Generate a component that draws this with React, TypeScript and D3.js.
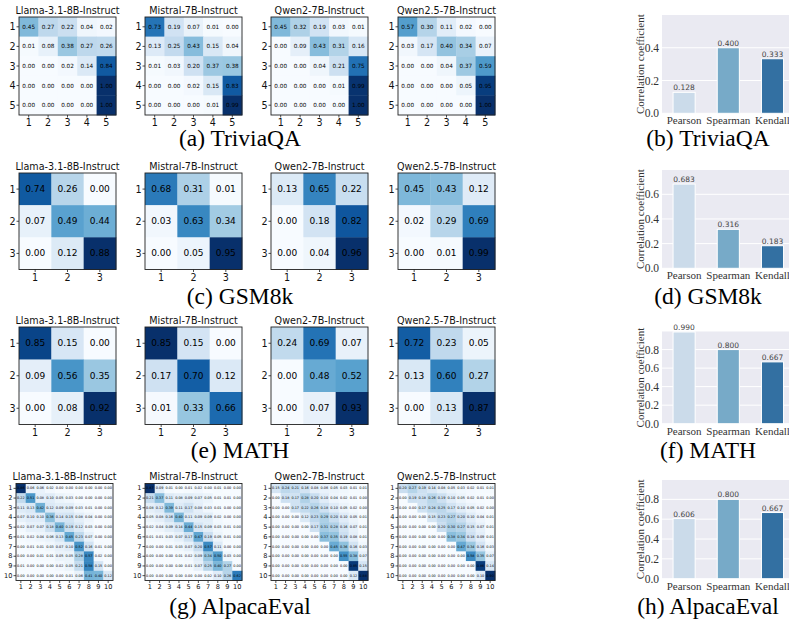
import React from "react";
import * as d3 from "d3";

const MODELS = ["Llama-3.1-8B-Instruct", "Mistral-7B-Instruct", "Qwen2-7B-Instruct", "Qwen2.5-7B-Instruct"];
const TICKS_5 = ["1", "2", "3", "4", "5"];
const TICKS_3 = ["1", "2", "3"];
const TICKS_10 = ["1", "2", "3", "4", "5", "6", "7", "8", "9", "10"];

const TRIVIA_LLAMA = [
  [0.45, 0.27, 0.22, 0.04, 0.02],
  [0.01, 0.08, 0.38, 0.27, 0.26],
  [0.0, 0.0, 0.02, 0.14, 0.84],
  [0.0, 0.0, 0.0, 0.0, 1.0],
  [0.0, 0.0, 0.0, 0.0, 1.0],
];
const TRIVIA_MISTRAL = [
  [0.73, 0.19, 0.07, 0.01, 0.0],
  [0.13, 0.25, 0.43, 0.15, 0.04],
  [0.01, 0.03, 0.2, 0.37, 0.38],
  [0.0, 0.0, 0.02, 0.15, 0.83],
  [0.0, 0.0, 0.0, 0.01, 0.99],
];
const TRIVIA_QWEN2 = [
  [0.45, 0.32, 0.19, 0.03, 0.01],
  [0.0, 0.09, 0.43, 0.31, 0.16],
  [0.0, 0.0, 0.04, 0.21, 0.75],
  [0.0, 0.0, 0.0, 0.01, 0.99],
  [0.0, 0.0, 0.0, 0.0, 1.0],
];
const TRIVIA_QWEN25 = [
  [0.57, 0.3, 0.11, 0.02, 0.0],
  [0.03, 0.17, 0.4, 0.34, 0.07],
  [0.0, 0.0, 0.04, 0.37, 0.59],
  [0.0, 0.0, 0.0, 0.05, 0.95],
  [0.0, 0.0, 0.0, 0.0, 1.0],
];

const GSM_LLAMA = [[0.74, 0.26, 0.0], [0.07, 0.49, 0.44], [0.0, 0.12, 0.88]];
const GSM_MISTRAL = [[0.68, 0.31, 0.01], [0.03, 0.63, 0.34], [0.0, 0.05, 0.95]];
const GSM_QWEN2 = [[0.13, 0.65, 0.22], [0.0, 0.18, 0.82], [0.0, 0.04, 0.96]];
const GSM_QWEN25 = [[0.45, 0.43, 0.12], [0.02, 0.29, 0.69], [0.0, 0.01, 0.99]];

const MATH_LLAMA = [[0.85, 0.15, 0.0], [0.09, 0.56, 0.35], [0.0, 0.08, 0.92]];
const MATH_MISTRAL = [[0.85, 0.15, 0.0], [0.17, 0.7, 0.12], [0.01, 0.33, 0.66]];
const MATH_QWEN2 = [[0.24, 0.69, 0.07], [0.0, 0.48, 0.52], [0.0, 0.07, 0.93]];
const MATH_QWEN25 = [[0.72, 0.23, 0.05], [0.13, 0.6, 0.27], [0.0, 0.13, 0.87]];

const ALPACA_LLAMA = [
  [0.86, 0.06, 0.06, 0.02, 0.0, 0.0, 0.0, 0.0, 0.0, 0.0],
  [0.22, 0.51, 0.08, 0.1, 0.05, 0.03, 0.0, 0.0, 0.0, 0.0],
  [0.11, 0.13, 0.42, 0.12, 0.09, 0.09, 0.03, 0.01, 0.0, 0.0],
  [0.07, 0.1, 0.1, 0.36, 0.14, 0.15, 0.08, 0.04, 0.0, 0.0],
  [0.02, 0.07, 0.07, 0.18, 0.4, 0.19, 0.12, 0.03, 0.0, 0.0],
  [0.01, 0.02, 0.04, 0.06, 0.13, 0.45, 0.23, 0.07, 0.0, 0.0],
  [0.0, 0.01, 0.01, 0.03, 0.07, 0.1, 0.52, 0.16, 0.01, 0.0],
  [0.0, 0.0, 0.01, 0.01, 0.05, 0.05, 0.28, 0.57, 0.02, 0.0],
  [0.01, 0.0, 0.0, 0.0, 0.02, 0.05, 0.21, 0.58, 0.15, 0.0],
  [0.0, 0.0, 0.0, 0.0, 0.0, 0.01, 0.06, 0.41, 0.4, 0.12],
];
const ALPACA_MISTRAL = [
  [0.87, 0.09, 0.01, 0.0, 0.01, 0.02, 0.0, 0.01, 0.0, 0.0],
  [0.21, 0.37, 0.11, 0.08, 0.09, 0.07, 0.05, 0.01, 0.01, 0.0],
  [0.08, 0.12, 0.39, 0.11, 0.17, 0.08, 0.03, 0.01, 0.0, 0.0],
  [0.05, 0.08, 0.16, 0.4, 0.11, 0.09, 0.09, 0.02, 0.0, 0.0],
  [0.02, 0.04, 0.09, 0.14, 0.44, 0.15, 0.09, 0.03, 0.01, 0.0],
  [0.01, 0.01, 0.03, 0.07, 0.17, 0.47, 0.19, 0.05, 0.01, 0.0],
  [0.0, 0.0, 0.01, 0.03, 0.07, 0.2, 0.57, 0.11, 0.0, 0.0],
  [0.0, 0.0, 0.0, 0.01, 0.02, 0.09, 0.34, 0.5, 0.03, 0.0],
  [0.0, 0.0, 0.0, 0.0, 0.01, 0.07, 0.25, 0.4, 0.27, 0.0],
  [0.0, 0.0, 0.0, 0.0, 0.0, 0.0, 0.02, 0.1, 0.26, 0.62],
];
const ALPACA_QWEN2 = [
  [0.15, 0.24, 0.21, 0.16, 0.08, 0.06, 0.05, 0.03, 0.01, 0.01],
  [0.0, 0.18, 0.17, 0.28, 0.2, 0.1, 0.04, 0.02, 0.01, 0.0],
  [0.0, 0.0, 0.17, 0.22, 0.26, 0.18, 0.1, 0.05, 0.02, 0.0],
  [0.0, 0.0, 0.0, 0.12, 0.23, 0.29, 0.2, 0.1, 0.05, 0.01],
  [0.0, 0.0, 0.0, 0.0, 0.17, 0.31, 0.28, 0.16, 0.07, 0.01],
  [0.0, 0.0, 0.0, 0.0, 0.0, 0.37, 0.35, 0.19, 0.08, 0.01],
  [0.0, 0.0, 0.0, 0.0, 0.0, 0.0, 0.45, 0.36, 0.16, 0.03],
  [0.0, 0.0, 0.0, 0.0, 0.0, 0.0, 0.0, 0.55, 0.38, 0.07],
  [0.0, 0.0, 0.0, 0.0, 0.0, 0.0, 0.0, 0.0, 0.85, 0.15],
  [0.0, 0.0, 0.0, 0.0, 0.0, 0.0, 0.0, 0.0, 0.12, 0.88],
];
const ALPACA_QWEN25 = [
  [0.2, 0.27, 0.19, 0.14, 0.08, 0.05, 0.03, 0.02, 0.01, 0.01],
  [0.0, 0.19, 0.18, 0.26, 0.19, 0.1, 0.05, 0.02, 0.01, 0.0],
  [0.0, 0.0, 0.17, 0.24, 0.25, 0.17, 0.1, 0.05, 0.02, 0.0],
  [0.0, 0.0, 0.0, 0.15, 0.23, 0.27, 0.2, 0.1, 0.04, 0.01],
  [0.0, 0.0, 0.0, 0.0, 0.2, 0.3, 0.27, 0.15, 0.07, 0.01],
  [0.0, 0.0, 0.0, 0.0, 0.0, 0.38, 0.34, 0.18, 0.09, 0.01],
  [0.0, 0.0, 0.0, 0.0, 0.0, 0.0, 0.47, 0.34, 0.16, 0.03],
  [0.0, 0.0, 0.0, 0.0, 0.0, 0.0, 0.0, 0.58, 0.35, 0.07],
  [0.0, 0.0, 0.0, 0.0, 0.0, 0.0, 0.0, 0.0, 0.86, 0.14],
  [0.0, 0.0, 0.0, 0.0, 0.0, 0.0, 0.0, 0.0, 0.1, 0.9],
];

const CORR_METHODS = ["Pearson", "Spearman", "Kendall"];
const CORR_TRIVIA = [0.128, 0.4, 0.333];
const CORR_GSM = [0.683, 0.316, 0.183];
const CORR_MATH = [0.99, 0.8, 0.667];
const CORR_ALPACA = [0.606, 0.8, 0.667];
const YTICKS_TRIVIA = [0, 0.2, 0.4];
const YTICKS_GSM = [0, 0.2, 0.4, 0.6];
const YTICKS_MATH = [0, 0.2, 0.4, 0.6, 0.8];
const YTICKS_ALPACA = [0, 0.2, 0.4, 0.6, 0.8];
const BAR_COLORS = ["#cbdbea", "#77aac8", "#3370a2"];

const CAPTIONS_LEFT = ["(a) TriviaQA", "(c) GSM8k", "(e) MATH", "(g) AlpacaEval"];
const CAPTIONS_RIGHT = ["(b) TriviaQA", "(d) GSM8k", "(f) MATH", "(h) AlpacaEval"];
const Y_LABEL = "Correlation coefficient";

const SANS = "DejaVu Sans";
const SERIF = "Liberation Serif";

type HMProps = {
  data: number[][];
  ticks: string[];
  x: number;
  y: number;
  w: number;
  h: number;
  title: string;
  cellFont: number;
  tickFont: number;
};

function Heatmap({ data, ticks, x, y, w, h, title, cellFont, tickFont }: HMProps) {
  const xs = d3.scaleBand<string>().domain(ticks).range([x, x + w]);
  const ys = d3.scaleBand<string>().domain(ticks).range([y, y + h]);
  const flat = data.flat();
  const color = d3
    .scaleSequential(d3.interpolateBlues)
    .domain([d3.min(flat) as number, d3.max(flat) as number]);
  const bw = xs.bandwidth();
  const bh = ys.bandwidth();
  return (
    <g>
      <text x={x + w / 2} y={y - 3.5} textAnchor="middle" fontFamily={SANS} fontSize={9.6} fill="#111">
        {title}
      </text>
      {data.map((row, i) =>
        row.map((v, j) => (
          <rect
            key={`c${i}-${j}`}
            x={xs(ticks[j])}
            y={ys(ticks[i])}
            width={bw + 0.4}
            height={bh + 0.4}
            fill={color(v)}
          />
        ))
      )}
      {data.map((row, i) =>
        row.map((v, j) => (
          <text
            key={`t${i}-${j}`}
            x={(xs(ticks[j]) as number) + bw / 2}
            y={(ys(ticks[i]) as number) + bh / 2}
            textAnchor="middle"
            dominantBaseline="central"
            fontFamily={SANS}
            fontSize={cellFont}
            fill="#000"
          >
            {v.toFixed(2)}
          </text>
        ))
      )}
      <rect x={x} y={y} width={w} height={h} fill="none" stroke="#222" strokeWidth={0.9} />
      {ticks.map((t) => (
        <g key={`xt${t}`}>
          <line
            x1={(xs(t) as number) + bw / 2}
            x2={(xs(t) as number) + bw / 2}
            y1={y + h}
            y2={y + h + 2.5}
            stroke="#222"
            strokeWidth={0.8}
          />
          <text
            x={(xs(t) as number) + bw / 2}
            y={y + h + 4 + tickFont * 0.73}
            textAnchor="middle"
            fontFamily={SANS}
            fontSize={tickFont}
            fill="#111"
          >
            {t}
          </text>
        </g>
      ))}
      {ticks.map((t) => (
        <g key={`yt${t}`}>
          <line
            x1={x - 2.5}
            x2={x}
            y1={(ys(t) as number) + bh / 2}
            y2={(ys(t) as number) + bh / 2}
            stroke="#222"
            strokeWidth={0.8}
          />
          <text
            x={x - 3.5}
            y={(ys(t) as number) + bh / 2}
            textAnchor="end"
            dominantBaseline="central"
            fontFamily={SANS}
            fontSize={tickFont}
            fill="#111"
          >
            {t}
          </text>
        </g>
      ))}
    </g>
  );
}

type BarProps = {
  values: number[];
  ymax: number;
  yticks: number[];
  top: number;
  bottom: number;
  caption: string;
  captionY: number;
};

function CorrBar({ values, ymax, yticks, top, bottom, caption, captionY }: BarProps) {
  const left = 662;
  const x = d3
    .scaleBand<string>()
    .domain(CORR_METHODS)
    .range([left, left + 132.6])
    .paddingInner(0.5)
    .paddingOuter(0.25);
  const y = d3.scaleLinear().domain([0, ymax]).range([bottom, top]);
  const bw = x.bandwidth();
  return (
    <g>
      <rect x={left} y={top} width={140} height={bottom - top} fill="#eaeaf2" />
      {yticks.map((t) => (
        <g key={`g${t}`}>
          <line x1={left} x2={left + 140} y1={y(t)} y2={y(t)} stroke="#fff" strokeWidth={1} />
          <text
            x={left - 3}
            y={y(t)}
            textAnchor="end"
            dominantBaseline="central"
            fontFamily={SERIF}
            fontSize={11.5}
            fill="#333"
          >
            {t.toFixed(1)}
          </text>
        </g>
      ))}
      {values.map((v, i) => (
        <g key={`b${i}`}>
          <rect
            x={x(CORR_METHODS[i])}
            y={y(v)}
            width={bw}
            height={bottom - y(v)}
            fill={BAR_COLORS[i]}
            stroke="#fff"
            strokeWidth={1}
          />
          <text
            x={(x(CORR_METHODS[i]) as number) + bw / 2}
            y={y(v) - 2}
            textAnchor="middle"
            fontFamily={SANS}
            fontSize={7.5}
            fill="#444"
          >
            {v.toFixed(3)}
          </text>
          <text
            x={(x(CORR_METHODS[i]) as number) + bw / 2}
            y={bottom + 11}
            textAnchor="middle"
            fontFamily={SERIF}
            fontSize={11}
            fill="#333"
          >
            {CORR_METHODS[i]}
          </text>
        </g>
      ))}
      <text
        transform={`translate(${643.5},${(top + bottom) / 2}) rotate(-90)`}
        textAnchor="middle"
        fontFamily={SERIF}
        fontSize={11}
        fill="#333"
      >
        {Y_LABEL}
      </text>
      <text x={708} y={captionY} textAnchor="middle" fontFamily={SERIF} fontSize={23.5} fill="#000">
        {caption}
      </text>
    </g>
  );
}

export default function App() {
  const lefts = [19, 145, 271, 398];
  const matW = 97;
  const rows = [
    { top: 17, h: 98, lefts: lefts, mats: [TRIVIA_LLAMA, TRIVIA_MISTRAL, TRIVIA_QWEN2, TRIVIA_QWEN25], ticks: TICKS_5, cellFont: 5.7, tickFont: 9.6, capY: 146 },
    { top: 173, h: 96.5, lefts: lefts, mats: [GSM_LLAMA, GSM_MISTRAL, GSM_QWEN2, GSM_QWEN25], ticks: TICKS_3, cellFont: 9, tickFont: 9.6, capY: 303.5 },
    { top: 327, h: 97.5, lefts: lefts, mats: [MATH_LLAMA, MATH_MISTRAL, MATH_QWEN2, MATH_QWEN25], ticks: TICKS_3, cellFont: 9, tickFont: 9.6, capY: 457.5 },
    { top: 483.5, h: 97, lefts: [16, 145, 271, 398], mats: [ALPACA_LLAMA, ALPACA_MISTRAL, ALPACA_QWEN2, ALPACA_QWEN25], ticks: TICKS_10, cellFont: 3.4, tickFont: 6.6, capY: 614 },
  ];
  const bars = [
    { values: CORR_TRIVIA, ymax: 0.6, yticks: YTICKS_TRIVIA, top: 15, bottom: 113.3 },
    { values: CORR_GSM, ymax: 0.797, yticks: YTICKS_GSM, top: 170, bottom: 268.3 },
    { values: CORR_MATH, ymax: 0.995, yticks: YTICKS_MATH, top: 331.5, bottom: 423.7 },
    { values: CORR_ALPACA, ymax: 0.995, yticks: YTICKS_ALPACA, top: 480, bottom: 578.7 },
  ];
  return (
    <svg
      width={789}
      height={621}
      style={{ position: "absolute", left: 0, top: 0, background: "#fff" }}
    >
      <rect x={0} y={0} width={789} height={621} fill="#fff" />
      {rows.map((r, ri) => (
        <g key={`row${ri}`}>
          {r.mats.map((m, mi) => (
            <Heatmap
              key={`hm${ri}-${mi}`}
              data={m}
              ticks={r.ticks}
              x={r.lefts[mi]}
              y={r.top}
              w={matW}
              h={r.h}
              title={MODELS[mi]}
              cellFont={r.cellFont}
              tickFont={r.tickFont}
            />
          ))}
          <text x={240} y={r.capY} textAnchor="middle" fontFamily={SERIF} fontSize={23.5} fill="#000">
            {CAPTIONS_LEFT[ri]}
          </text>
        </g>
      ))}
      {bars.map((b, bi) => (
        <CorrBar
          key={`bar${bi}`}
          values={b.values}
          ymax={b.ymax}
          yticks={b.yticks}
          top={b.top}
          bottom={b.bottom}
          caption={CAPTIONS_RIGHT[bi]}
          captionY={rows[bi].capY}
        />
      ))}
    </svg>
  );
}
